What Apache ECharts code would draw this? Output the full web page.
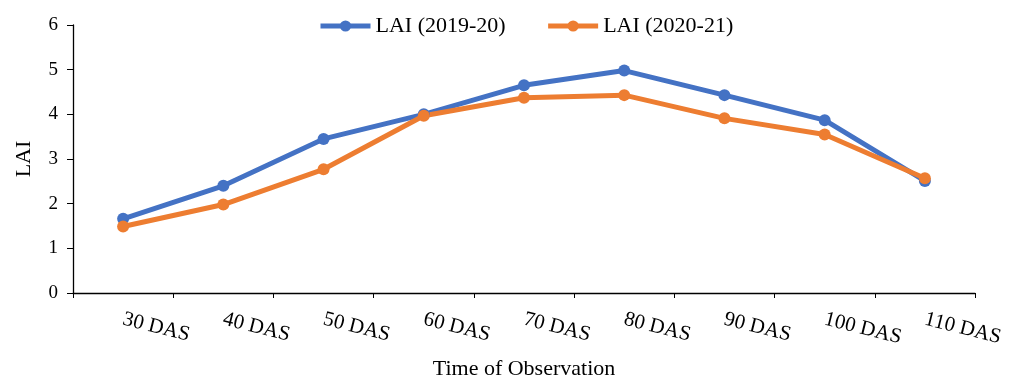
<!DOCTYPE html>
<html>
<head>
<meta charset="utf-8">
<script src="https://cdn.jsdelivr.net/npm/echarts@6/dist/echarts.min.js"></script>
<style>
html,body{margin:0;padding:0;background:#fff;}
#chart{width:1011px;height:381px;}
</style>
</head>
<body>
<div id="chart"></div>
<script>
const categories = ['30 DAS','40 DAS','50 DAS','60 DAS','70 DAS','80 DAS','90 DAS','100 DAS','110 DAS'];
const lai2019 = [1.66, 2.40, 3.45, 4.00, 4.65, 4.98, 4.43, 3.87, 2.51];
const lai2020 = [1.49, 1.98, 2.77, 3.97, 4.37, 4.43, 3.91, 3.55, 2.57];
const yTicks = [0, 1, 2, 3, 4, 5, 6];

const font = 'Liberation Serif, Times New Roman, serif';
const chart = echarts.init(document.getElementById('chart'));
chart.setOption({
  animation: false,
  textStyle: { fontFamily: font },
  legend: {
    top: 10,
    left: 313,
    itemWidth: 50,
    itemHeight: 14,
    itemGap: 40,
    textStyle: { fontFamily: font, fontSize: 22, color: '#000' },
    data: [
      { name: 'LAI (2019-20)', itemStyle: { color: '#4472C4' }, lineStyle: { width: 5, color: '#4472C4' } },
      { name: 'LAI (2020-21)', itemStyle: { color: '#ED7D31' }, lineStyle: { width: 5, color: '#ED7D31' } }
    ]
  },
  grid: { left: 73, right: 36, top: 25, bottom: 88, containLabel: false, outerBoundsMode: 'none' },
  xAxis: {
    type: 'category',
    data: categories,
    boundaryGap: true,
    name: 'Time of Observation',
    nameLocation: 'middle',
    nameGap: 65,
    nameTextStyle: { fontFamily: font, fontSize: 22, color: '#000' },
    axisLine: { lineStyle: { color: '#000', width: 1.3 } },
    axisTick: { show: true, length: 5, lineStyle: { color: '#000' } },
    axisLabel: { rotate: -14, fontFamily: font, fontSize: 21, color: '#000', margin: 26, interval: 0 }
  },
  yAxis: {
    type: 'value',
    min: yTicks[0],
    max: yTicks[yTicks.length - 1],
    interval: 1,
    name: 'LAI',
    nameLocation: 'middle',
    nameGap: 38,
    nameTextStyle: { fontFamily: font, fontSize: 22, color: '#000' },
    splitLine: { show: false },
    axisLine: { show: true, lineStyle: { color: '#000', width: 1.3 } },
    axisTick: { show: true, length: 6, lineStyle: { color: '#000' } },
    axisLabel: { fontFamily: font, fontSize: 19, color: '#000', margin: 15 }
  },
  series: [
    {
      name: 'LAI (2019-20)',
      type: 'line',
      data: lai2019,
      symbol: 'circle',
      symbolSize: 12,
      lineStyle: { width: 5, color: '#4472C4' },
      itemStyle: { color: '#4472C4' }
    },
    {
      name: 'LAI (2020-21)',
      type: 'line',
      data: lai2020,
      symbol: 'circle',
      symbolSize: 12,
      lineStyle: { width: 5, color: '#ED7D31' },
      itemStyle: { color: '#ED7D31' }
    }
  ]
});
</script>
</body>
</html>
